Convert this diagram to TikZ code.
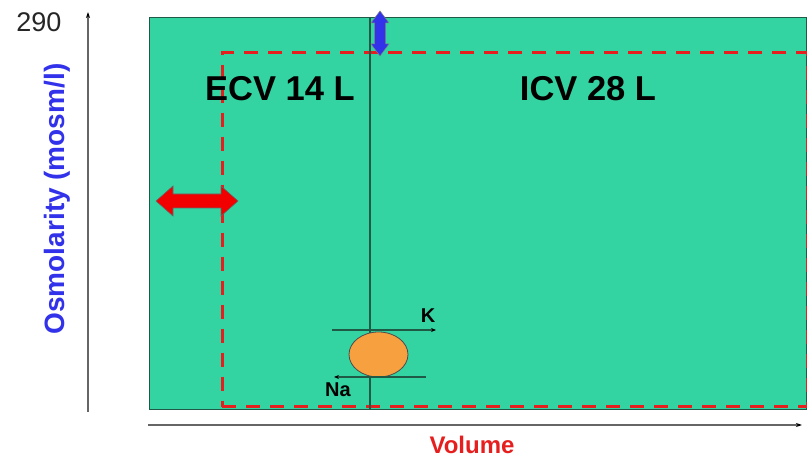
\documentclass[tikz,border=0pt]{standalone}
\usepackage{fontspec}
\setmainfont{Liberation Sans}
\usetikzlibrary{arrows.meta,shapes.geometric}
\definecolor{bggreen}{RGB}{52,212,162}
\definecolor{lineg}{RGB}{30,90,70}
\definecolor{dred}{RGB}{230,30,30}
\definecolor{orng}{RGB}{247,160,64}
\definecolor{ablue}{RGB}{50,50,235}
\tikzset{
  axis/.style={draw=black!60,line width=1.3pt,-{Stealth[length=6pt,width=4pt,black]}},
  lbl/.style={font=\bfseries\fontsize{34.5}{36}\selectfont,inner sep=0pt},
  ion/.style={font=\bfseries\fontsize{20}{21}\selectfont,inner sep=0pt},
  ionline/.style={draw=lineg,line width=1.2pt},
  blockred/.style={fill=red!95!black,draw=black!60,line width=0.6pt},
  blockblue/.style={fill=ablue,draw=black!50,line width=0.5pt}
}
\begin{document}
\begin{tikzpicture}[x=1pt,y=1pt]
\useasboundingbox (0,0) rectangle (807,458);
% compartments
\node[draw=lineg,line width=0.9pt,fill=bggreen,minimum width=657pt,minimum height=392pt,inner sep=0pt,anchor=south west] (body) at (149,48) {};
\node[draw=dred,dash pattern=on 14pt off 10pt,line width=2.8pt,minimum width=585pt,minimum height=354pt,inner sep=0pt,anchor=south west] (icv) at (221,50) {};
\coordinate (mtop) at (370,440);
\coordinate (mbot) at (370,48);
\draw[draw=lineg,line width=1.1pt] (mtop) -- (mbot);
% axes
\coordinate (o1) at (88,46);
\coordinate (ytop) at (88,446);
\coordinate (o2) at (148,33);
\coordinate (xend) at (802,33);
\draw[axis] (o1) -- (ytop);
\draw[axis] (o2) -- (xend);
\node[font=\fontsize{27}{28}\selectfont,inner sep=0pt,text=black!85] (n290) at (39,436) {290};
\node[font=\bfseries\fontsize{28}{29}\selectfont,text=ablue,rotate=90,inner sep=0pt] (ylab) at (57,259) {Osmolarity (mosm/l)};
\node[font=\bfseries\fontsize{24}{25}\selectfont,text=dred,inner sep=0pt] (xlab) at (472,13) {Volume};
\node[lbl] (ecv) at (280,369) {ECV 14 L};
\node[lbl] (icvl) at (588,369) {ICV 28 L};
% blue double arrow
\draw[blockblue] (380,447) -- (389,435) -- (385.5,435) -- (385.5,414) -- (389,414) -- (380,402) -- (371,414) -- (374.5,414) -- (374.5,435) -- (371,435) -- cycle;
% red double arrow
\draw[blockred] (156,257) -- (173,272) -- (173,264) -- (221,264) -- (221,272) -- (238,257) -- (221,242) -- (221,250) -- (173,250) -- (173,242) -- cycle;
% cell
\node[ellipse,draw=black!70,line width=0.8pt,fill=orng,minimum width=59pt,minimum height=45pt,inner sep=0pt] (cell) at (378.5,103.5) {};
\coordinate (ka) at (332,128);
\coordinate (kb) at (436,128);
\draw[ionline,-{Stealth[length=5pt,width=4pt,black]}] (ka) -- (kb);
\node[ion] (k) at (428,142) {K};
\coordinate (naa) at (426,81);
\coordinate (nab) at (334,81);
\draw[ionline,-{Stealth[length=5pt,width=4pt,black]}] (naa) -- (nab);
\node[ion] (na) at (338,68) {Na};
\end{tikzpicture}
\end{document}
